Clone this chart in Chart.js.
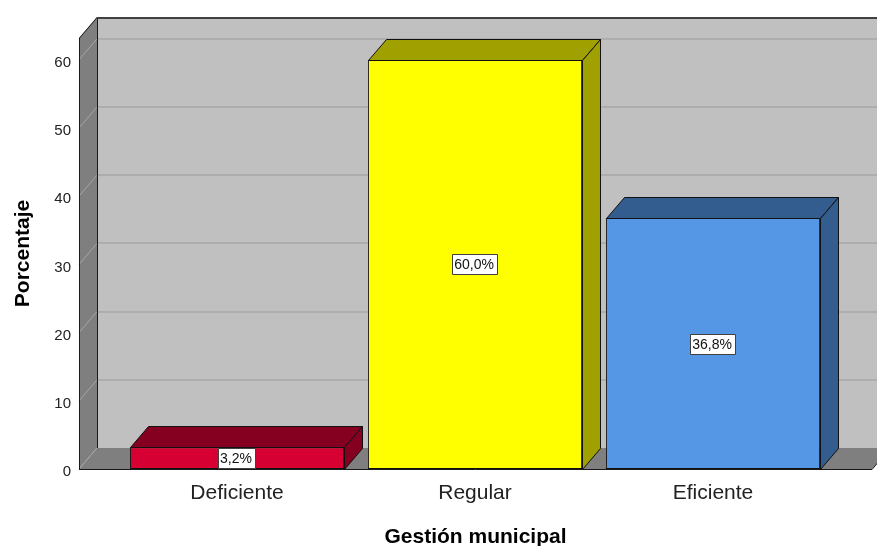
<!DOCTYPE html>
<html><head><meta charset="utf-8">
<script src="https://cdn.jsdelivr.net/npm/chart.js@4/dist/chart.umd.min.js"></script>
<style>html,body{margin:0;padding:0;background:#fff;} #wrap{width:877px;height:546px;position:relative;}</style>
</head><body><div id="wrap"><canvas id="c" width="877" height="546"></canvas></div>
<script>
const categories = ['Deficiente', 'Regular', 'Eficiente'];
const percentages = [3.2, 60.0, 36.8];
const valueLabels = ['3,2%', '60,0%', '36,8%'];
const yTickValues = [0, 10, 20, 30, 40, 50, 60];
const xTitle = 'Gestión municipal';
const yTitle = 'Porcentaje';

const frontColors = ['#d70032', '#ffff00', '#5597e4'];
const darkColors = ['#850020', '#a0a000', '#335c8f'];
const FONT = "'Liberation Sans', Arial, sans-serif";
const DX = 18, DY = -21;

const walls = {
  id: 'walls',
  beforeDatasetsDraw(chart) {
    const {ctx, chartArea: a, scales: {y}} = chart;
    const y0 = y.getPixelForValue(0);
    const top = a.top;
    const L = a.left, R = a.right;
    ctx.save();
    ctx.fillStyle = '#c0c0c0';
    ctx.fillRect(L + DX, top + DY, chart.width, y0 - top);
    ctx.strokeStyle = '#adadad';
    ctx.lineWidth = 2;
    y.ticks.forEach(t => {
      if (t.value === 0) return;
      const py = Math.round(y.getPixelForValue(t.value) + DY);
      ctx.beginPath(); ctx.moveTo(L + DX, py); ctx.lineTo(chart.width, py); ctx.stroke();
    });
    ctx.fillStyle = '#7f7f7f';
    ctx.beginPath();
    ctx.moveTo(L, top); ctx.lineTo(L + DX, top + DY); ctx.lineTo(L + DX, y0 + DY); ctx.lineTo(L, y0);
    ctx.closePath(); ctx.fill();
    ctx.beginPath();
    ctx.moveTo(L, y0); ctx.lineTo(L + DX, y0 + DY); ctx.lineTo(R + DX, y0 + DY); ctx.lineTo(R, y0);
    ctx.closePath(); ctx.fill();
    ctx.strokeStyle = '#a6a6a6';
    ctx.lineWidth = 1;
    y.ticks.forEach(t => {
      const py = y.getPixelForValue(t.value);
      ctx.beginPath(); ctx.moveTo(L, py); ctx.lineTo(L + DX, py + DY); ctx.stroke();
    });
    ctx.strokeStyle = '#1a1a1a';
    ctx.lineWidth = 1;
    ctx.beginPath();
    ctx.moveTo(L + DX + 0.5, top + DY); ctx.lineTo(L + DX + 0.5, y0 + DY);
    ctx.moveTo(L + 0.5, y0); ctx.lineTo(L + 0.5, top); ctx.lineTo(L + DX + 0.5, top + DY);
    ctx.moveTo(L, y0 + 0.5); ctx.lineTo(R, y0 + 0.5); ctx.lineTo(R + DX, y0 + DY + 0.5);
    ctx.stroke();
    ctx.strokeStyle = '#404040';
    ctx.lineWidth = 2;
    ctx.beginPath();
    ctx.moveTo(L + DX, top + DY + 1); ctx.lineTo(chart.width, top + DY + 1);
    ctx.stroke();
    ctx.restore();
  },
  afterDatasetsDraw(chart) {
    const {ctx} = chart;
    const meta = chart.getDatasetMeta(0);
    ctx.save();
    ctx.lineWidth = 1;
    ctx.strokeStyle = '#111';
    ctx.lineJoin = 'round';
    meta.data.forEach((bar, i) => {
      const {x, y, base, width} = bar.getProps(['x', 'y', 'base', 'width'], true);
      const l = Math.round(x - width / 2) + 0.5, r = Math.round(x + width / 2) + 0.5;
      const ty = Math.round(y) + 0.5, by = Math.round(base) + 0.5;
      ctx.fillStyle = darkColors[i];
      ctx.beginPath();
      ctx.moveTo(l, ty); ctx.lineTo(l + DX, ty + DY); ctx.lineTo(r + DX, ty + DY); ctx.lineTo(r, ty);
      ctx.closePath(); ctx.fill(); ctx.stroke();
      ctx.beginPath();
      ctx.moveTo(r, ty); ctx.lineTo(r + DX, ty + DY); ctx.lineTo(r + DX, by + DY); ctx.lineTo(r, by);
      ctx.closePath(); ctx.fill(); ctx.stroke();
    });
    ctx.font = '14px ' + FONT;
    ctx.textAlign = 'center';
    ctx.textBaseline = 'middle';
    meta.data.forEach((bar, i) => {
      const {x, y, base} = bar.getProps(['x', 'y', 'base'], true);
      const cy = Math.round((y + base) / 2);
      const txt = valueLabels[i];
      const w = Math.round(ctx.measureText(txt).width) + 5, h = 20;
      const bx = Math.round(x - w / 2) - 0.5, byy = Math.round(cy - h / 2) + 0.5;
      ctx.fillStyle = '#fff';
      ctx.fillRect(bx, byy, w, h);
      ctx.strokeStyle = '#404040';
      ctx.strokeRect(bx, byy, w, h);
      ctx.fillStyle = '#111';
      ctx.fillText(txt, x - 1, cy + 1);
    });
    ctx.restore();
  }
};

new Chart(document.getElementById('c'), {
  type: 'bar',
  data: {
    datasets: [{
      data: percentages.map((v, i) => ({x: i + 1, y: v})),
      backgroundColor: frontColors,
      borderColor: '#111',
      borderWidth: 1,
      borderSkipped: false,
      barPercentage: 0.9,
      categoryPercentage: 1.0
    }]
  },
  options: {
    responsive: false,
    animation: false,
    devicePixelRatio: 1,
    layout: {padding: {left: 0, top: 38, right: 5, bottom: 0}},
    plugins: {legend: {display: false}, tooltip: {enabled: false}},
    scales: {
      x: {
        type: 'linear',
        offset: false,
        bounds: 'data',
        min: 0.336,
        max: 3.668,
        grid: {display: false, drawTicks: false, offset: false},
        border: {display: false},
        afterBuildTicks: s => { s.ticks = categories.map((c, i) => ({value: i + 1})); },
        afterFit: s => { s.height = 77; },
        ticks: {
          autoSkip: false,
          maxRotation: 0,
          padding: 12,
          color: '#222',
          font: {family: FONT, size: 21},
          callback: v => categories[v - 1]
        },
        title: {
          display: true, text: xTitle, color: '#000',
          font: {family: FONT, size: 21, weight: 'bold', lineHeight: 0.85},
          padding: {top: 0, bottom: 0}
        }
      },
      y: {
        min: 0,
        max: 63.2,
        grid: {display: false, drawTicks: false},
        border: {display: false},
        afterBuildTicks: s => { s.ticks = yTickValues.map(v => ({value: v})); },
        afterFit: s => { s.width = 79; },
        ticks: {
          padding: 8,
          labelOffset: 3,
          color: '#222',
          font: {family: FONT, size: 15}
        },
        title: {
          display: true, text: yTitle, color: '#000',
          font: {family: FONT, size: 21, weight: 'bold', lineHeight: 1},
          padding: {top: 13, bottom: 0}
        }
      }
    }
  },
  plugins: [walls]
});
</script>
</body></html>
